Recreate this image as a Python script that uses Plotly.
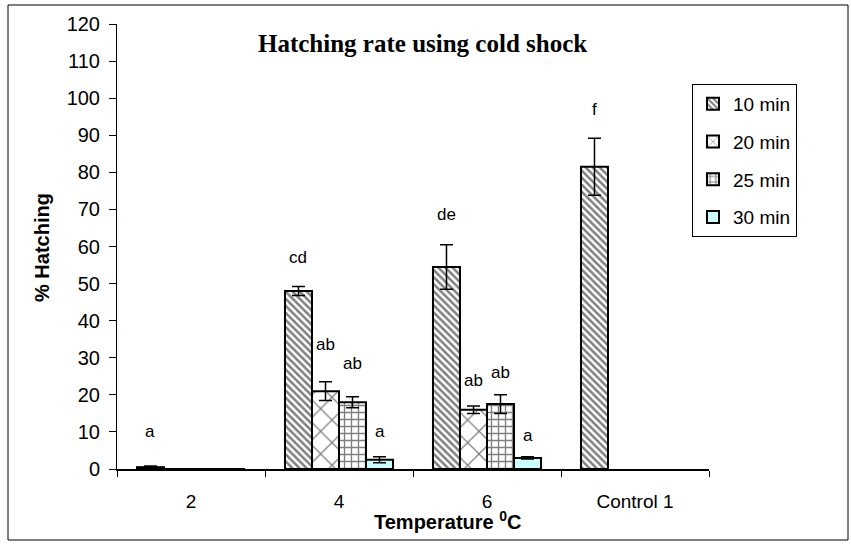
import plotly.graph_objects as go

categories = ["2", "4", "6", "Control 1"]
series_names = ["10 min", "20 min", "25 min", "30 min"]
vals_10 = [0.5, 48, 54.5, 81.5]
err_10 = [0.3, 1.2, 6, 7.7]
vals_20 = [0, 21, 16, None]
err_20 = [0, 2.5, 1, 0]
vals_25 = [0, 18, 17.5, None]
err_25 = [0, 1.5, 2.5, 0]
vals_30 = [0, 2.5, 3, None]
err_30 = [0, 0.8, 0.3, 0]
letters = [["a", "cd", "de", "f"], ["", "ab", "ab", ""], ["", "ab", "ab", ""], ["", "a", "a", ""]]
letter_y = [[10, 57, 68.5, 97], [None, 33.5, 24, None], [None, 28.5, 26, None], [None, 10, 9, None]]
y_ticks = list(range(0, 121, 10))

W, H = 851, 544
PL, PR, PT, PB = 117, 709, 24, 469  # plot area in px

all_vals = [vals_10, vals_20, vals_25, vals_30]
all_errs = [err_10, err_20, err_25, err_30]
patterns = [
    dict(shape="\\", size=5, solidity=0.5, fgcolor="black", bgcolor="white"),
    dict(shape="x", size=16, solidity=0.15, fgcolor="black", bgcolor="white"),
    dict(shape="+", size=7, solidity=0.35, fgcolor="black", bgcolor="white"),
    None,
]
colors = ["white", "white", "white", "#CCFFFF"]

fig = go.Figure()
for i in range(4):
    marker = dict(color=colors[i], line=dict(color="black", width=2))
    if patterns[i]:
        marker["pattern"] = patterns[i]
    fig.add_trace(go.Bar(
        x=categories, y=all_vals[i], name=series_names[i],
        marker=marker, legendgroup=series_names[i],
        error_y=dict(type="data", array=all_errs[i], visible=True,
                     color="black", thickness=1.5, width=6.5),
    ))

bargap = 0.27
gw = 1 - bargap
bw = gw / 4
anns = []
for i in range(4):
    for j in range(4):
        if letters[i][j]:
            anns.append(dict(x=j - gw / 2 + bw * (i + 0.5), y=letter_y[i][j], xref="x", yref="y",
                             text=letters[i][j], showarrow=False, yanchor="middle",
                             font=dict(family="Liberation Sans, Arial", size=17, color="black")))


def px2x(p):
    return (p - PL) / (PR - PL)


def px2y(p):
    return (PB - p) / (PB - PT)


anns.append(dict(x=px2x(256), y=px2y(43), xref="paper", yref="paper", xanchor="left", yanchor="middle",
                 text="<b>Hatching rate using cold shock</b>", showarrow=False,
                 font=dict(family="Liberation Serif, Times New Roman", size=25, color="black")))
anns.append(dict(x=px2x(447), y=px2y(520), xref="paper", yref="paper", xanchor="center", yanchor="middle",
                 text="<b>Temperature <sup>0</sup>C</b>", showarrow=False,
                 font=dict(family="Liberation Sans, Arial", size=20, color="black")))
anns.append(dict(x=px2x(42), y=px2y(248), xref="paper", yref="paper", xanchor="center", yanchor="middle",
                 text="<b>% Hatching</b>", showarrow=False, textangle=-90,
                 font=dict(family="Liberation Sans, Arial", size=20, color="black")))

shapes = [dict(type="rect", xref="paper", yref="paper",
               x0=px2x(8), x1=px2x(848), y0=px2y(540), y1=px2y(5),
               line=dict(color="black", width=1), fillcolor="rgba(0,0,0,0)", layer="below")]

fig.update_layout(
    width=W, height=H,
    margin=dict(l=PL, r=W - PR, t=PT, b=H - PB, pad=0, autoexpand=False),
    paper_bgcolor="white", plot_bgcolor="white",
    barmode="group", bargap=bargap, bargroupgap=0,
    font=dict(family="Liberation Sans, Arial", size=19, color="black"),
    showlegend=True,
    legend=dict(x=px2x(692), y=px2y(84), xanchor="left", yanchor="top",
                bordercolor="black", borderwidth=1, bgcolor="white",
                font=dict(size=19), tracegroupgap=10, itemwidth=30),
    annotations=anns, shapes=shapes,
    xaxis=dict(showline=True, linecolor="black", linewidth=1.5, ticks="outside",
               tickson="boundaries", ticklen=6, tickcolor="black",
               tickangle=0, automargin=False,
               ticklabelstandoff=14, tickfont=dict(size=19), showgrid=False,
               range=[-0.5, 3.5]),
    yaxis=dict(showline=True, linecolor="black", linewidth=1, ticks="outside",
               ticklen=7, tickcolor="black", range=[0, 120], tickvals=y_ticks,
               automargin=False,
               tickfont=dict(size=20), showgrid=False, zeroline=False, ticklabelstandoff=5),
)

fig.write_html("out.html")
